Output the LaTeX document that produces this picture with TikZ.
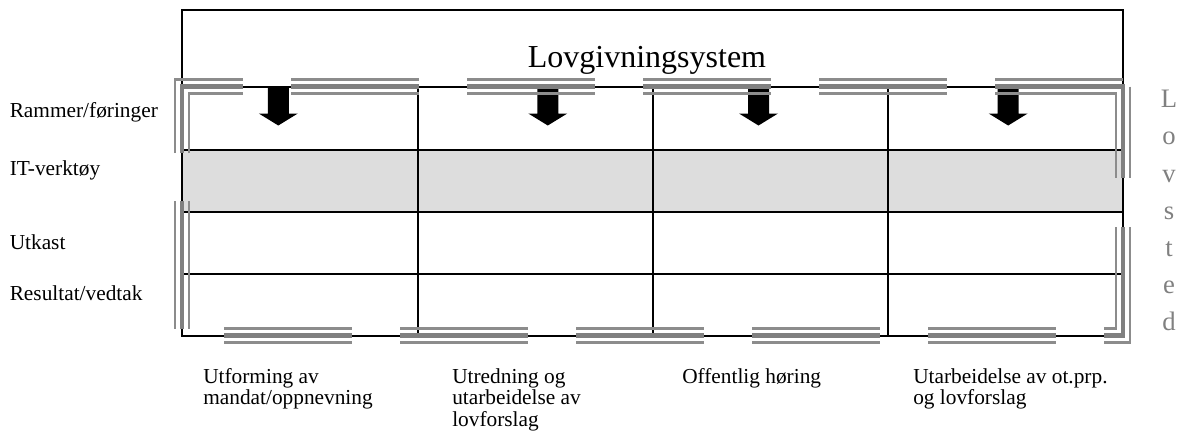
\documentclass[tikz,border=0pt]{standalone}
\usepackage{fontspec}
\setmainfont{Liberation Serif}
\definecolor{shadegrey}{RGB}{221,221,221}
\definecolor{dgrey}{RGB}{128,128,128}
\definecolor{lgrey}{RGB}{140,140,140}
\tikzset{
  thinl/.style={draw=lgrey,line width=1.7pt},
  thickl/.style={draw=dgrey,line width=3.3pt},
  tline/.style={draw=black,line width=1.5pt},
  blockarrow/.style={fill=black,draw=none},
  rowlabel/.style={anchor=base west,inner sep=0pt,font=\fontsize{16}{16}\selectfont},
  collabel/.style={anchor=base west,inner sep=0pt,align=left,font=\fontsize{16}{16.1}\selectfont},
}
\newcommand{\trH}[3]{%
  \draw[thinl] (#1,#3-7) -- (#2,#3-7);
  \draw[thickl] (#1,#3) -- (#2,#3);
  \draw[thinl] (#1,#3+7) -- (#2,#3+7);}
\newcommand{\trV}[3]{%
  \draw[thinl] (#1-7,#2) -- (#1-7,#3);
  \draw[thickl] (#1,#2) -- (#1,#3);
  \draw[thinl] (#1+7,#2) -- (#1+7,#3);}
\begin{document}
\begin{tikzpicture}[x=0.75pt,y=-0.75pt]
\useasboundingbox (0,0) rectangle (1186,439);
% shaded row
\fill[shadegrey] (182,149.5) rectangle (1122.5,211.5);
% table lines
\draw[tline] (182,9.5) rectangle (1122.5,335.5);
\foreach \yy in {86.5,149.5,211.5,273.5} \draw[tline] (182,\yy) -- (1122.5,\yy);
\foreach \xx in {417.5,653,888} \draw[tline] (\xx,86.5) -- (\xx,335.5);
% block arrows
\foreach \cx in {278.3,547.8,758.5,1008.2}
  \fill[blockarrow] (\cx-10.5,86.5) -- (\cx+10.5,86.5) -- (\cx+10.5,113.5) -- (\cx+19.5,113.5)
     -- (\cx,125.5) -- (\cx-19.5,113.5) -- (\cx-10.5,113.5) -- cycle;
% triple border segments
% top-left corner
\draw[thinl] (175,153) -- (175,79.5) -- (243,79.5);
\draw[thickl] (182,153) -- (182,86.5) -- (243,86.5);
\draw[thinl] (189,153) -- (189,93.5) -- (243,93.5);
% top segments
\trH{291}{419}{86.5}
\trH{467}{595}{86.5}
\trH{643}{771}{86.5}
\trH{819}{947}{86.5}
% top-right corner
\draw[thinl] (995,79.5) -- (1123,79.5);
\draw[thinl] (1130,86.5) -- (1130,178);
\draw[thickl] (995,86.5) -- (1123,86.5) -- (1123,178);
\draw[thinl] (995,93.5) -- (1116,93.5) -- (1116,178);
% left lower
\trV{182}{201}{329}
% bottom segments
\trH{224}{352}{335.5}
\trH{400}{528}{335.5}
\trH{576}{704}{335.5}
\trH{752}{880}{335.5}
\trH{928}{1056}{335.5}
% bottom-right corner
\draw[thinl] (1104,342.5) -- (1130,342.5) -- (1130,227);
\draw[thickl] (1104,335.5) -- (1123,335.5) -- (1123,227);
\draw[thinl] (1104,328.5) -- (1116,328.5) -- (1116,227);
% title
\node[anchor=base,inner sep=0pt,font=\fontsize{24}{24}\selectfont] (title) at (647,67.3) {Lovgivningsystem};
% row labels
\node[rowlabel] (r1) at (9.5,117) {Rammer/føringer};
\node[rowlabel] (r2) at (9.5,175) {IT-verktøy};
\node[rowlabel] (r3) at (9.5,249) {Utkast};
\node[rowlabel] (r4) at (9.5,300.5) {Resultat/vedtak};
% column labels (base anchor = last line)
\node[collabel] (c1) at (203,404.5) {Utforming av\\mandat/oppnevning};
\node[collabel] (c2) at (452,426) {Utredning og\\utarbeidelse av\\lovforslag};
\node[collabel] (c3) at (682,383) {Offentlig høring};
\node[collabel] (c4) at (913,404.5) {Utarbeidelse av ot.prp.\\og lovforslag};
% vertical word (base anchor = last line)
\node[anchor=base,inner sep=0pt,align=center,text=dgrey,font=\fontsize{20}{27.9}\selectfont] (lov) at (1169,330.9) {L\\o\\v\\s\\t\\e\\d};
\end{tikzpicture}
\end{document}
